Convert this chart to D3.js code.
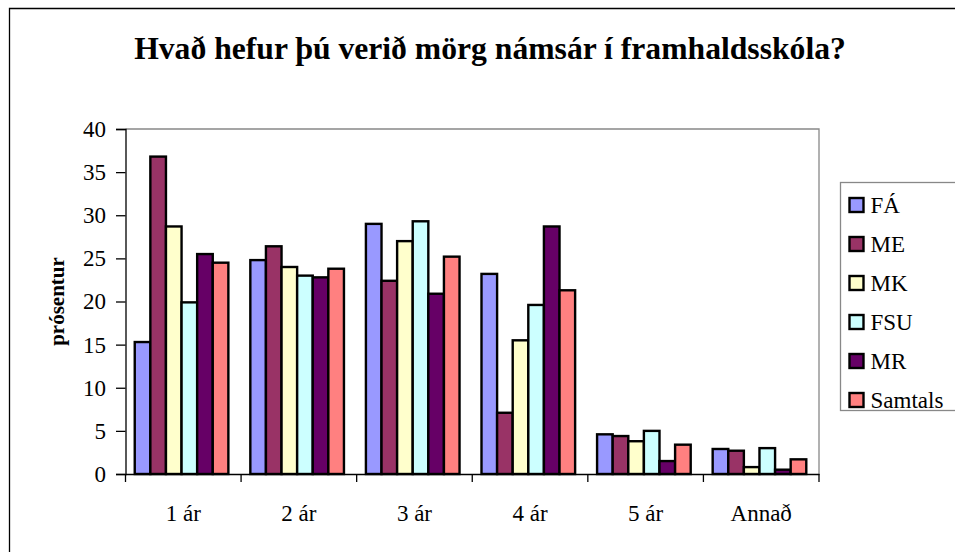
<!DOCTYPE html>
<html>
<head>
<meta charset="utf-8">
<script src="https://cdn.jsdelivr.net/npm/d3@7"></script>
<style>
  body { margin: 0; background: #fff; }
  svg { display: block; }
  svg text { font-family: "Liberation Serif", "Times New Roman", serif !important; fill: #000; }
</style>
</head>
<body>
<svg width="955" height="552"></svg>
<script>
const categories = ['1 ár', '2 ár', '3 ár', '4 ár', '5 ár', 'Annað'];
const seriesNames = ['FÁ', 'ME', 'MK', 'FSU', 'MR', 'Samtals'];
const colors = ['#9999ff', '#993366', '#ffffcc', '#ccffff', '#660066', '#ff8080'];
const faValues = [15.3, 24.8, 29.0, 23.2, 4.6, 2.9];
const meValues = [36.8, 26.4, 22.4, 7.1, 4.4, 2.7];
const mkValues = [28.7, 24.0, 27.0, 15.5, 3.8, 0.8];
const fsuValues = [19.9, 23.0, 29.3, 19.6, 5.0, 3.0];
const mrValues = [25.5, 22.8, 20.9, 28.7, 1.5, 0.5];
const samtalsValues = [24.5, 23.8, 25.2, 21.3, 3.4, 1.7];
const yTicks = [0, 5, 10, 15, 20, 25, 30, 35, 40];

const allValues = [faValues, meValues, mkValues, fsuValues, mrValues, samtalsValues];
const data = categories.map((c, i) => ({
  cat: c,
  vals: seriesNames.map((s, j) => ({series: s, value: allValues[j][i], color: colors[j]}))
}));

const svg = d3.select('svg');
const plot = {left: 125.5, right: 819, top: 129, bottom: 474};
const labelSize = 22;

// outer frame (only left and top edges fall inside the picture)
svg.append('path')
  .attr('d', 'M9.5,560V8.5H960')
  .attr('fill', 'none').attr('stroke', '#000').attr('stroke-width', 1.3);

const title = svg.append('text')
  .attr('x', 490).attr('y', 59)
  .attr('text-anchor', 'middle')
  .style('font-size', '28px').style('font-weight', 'bold')
  .text('Hvað hefur þú verið mörg námsár í framhaldsskóla?');
// the original title is set a bit wide; fit its size to the same span
const titleLen = title.node().getComputedTextLength();
if (titleLen > 0) title.style('font-size', Math.min(32, 28 * 712 / titleLen) + 'px');

const x = d3.scaleBand()
  .domain(categories)
  .range([plot.left, plot.right]);

const xInner = d3.scaleBand()
  .domain(seriesNames)
  .range([x.bandwidth() * 0.08, x.bandwidth() * 0.89]);

const y = d3.scaleLinear()
  .domain([0, 40])
  .range([plot.bottom, plot.top]);

// plot area border (gray top/right)
svg.append('path')
  .attr('d', `M${plot.left},${plot.top}H${plot.right}V${plot.bottom}`)
  .attr('fill', 'none').attr('stroke', '#888').attr('stroke-width', 1.3);

const groups = svg.append('g')
  .selectAll('g')
  .data(data)
  .join('g')
  .attr('transform', d => 'translate(' + x(d.cat) + ',0)');

groups.selectAll('rect')
  .data(d => d.vals)
  .join('rect')
  .attr('x', d => xInner(d.series))
  .attr('y', d => y(d.value))
  .attr('width', xInner.bandwidth())
  .attr('height', d => y(0) - y(d.value))
  .attr('fill', d => d.color)
  .attr('stroke', '#000')
  .attr('stroke-width', 2.4);

const yAxis = svg.append('g')
  .attr('transform', 'translate(' + plot.left + ',0)')
  .call(d3.axisLeft(y).tickValues(yTicks).tickSize(9.5).tickPadding(10));
yAxis.select('.domain').attr('stroke', '#000').attr('stroke-width', 1.3);
yAxis.selectAll('.tick line').attr('stroke', '#000').attr('stroke-width', 1.3);
yAxis.selectAll('text').style('font-size', '23px');

const xAxis = svg.append('g')
  .attr('transform', 'translate(0,' + plot.bottom + ')')
  .call(d3.axisBottom(x).tickSize(0).tickPadding(31));
xAxis.select('.domain').attr('stroke', '#000').attr('stroke-width', 1.3);
xAxis.selectAll('text').style('font-size', '23px');

// category separator ticks on x axis
svg.append('g')
  .selectAll('line')
  .data(categories.concat(['end']))
  .join('line')
  .attr('x1', (d, i) => i < categories.length ? x(d) : plot.right)
  .attr('x2', (d, i) => i < categories.length ? x(d) : plot.right)
  .attr('y1', plot.bottom)
  .attr('y2', plot.bottom + 8)
  .attr('stroke', '#000').attr('stroke-width', 1.3);

svg.append('text')
  .attr('transform', 'translate(64,' + ((plot.top + plot.bottom) / 2) + ') rotate(-90)')
  .attr('text-anchor', 'middle')
  .style('font-size', '21px').style('font-weight', 'bold')
  .text('prósentur');

// legend
const legend = svg.append('g').attr('transform', 'translate(840.5,182.5)');
legend.append('rect')
  .attr('width', 130).attr('height', 228)
  .attr('fill', '#fff').attr('stroke', '#888').attr('stroke-width', 1.3);

const items = legend.selectAll('g.item')
  .data(seriesNames)
  .join('g')
  .attr('class', 'item')
  .attr('transform', (d, i) => 'translate(0,' + (22 + i * 39) + ')');

items.append('rect')
  .attr('x', 9).attr('y', -6.5)
  .attr('width', 14).attr('height', 14)
  .attr('fill', (d, i) => colors[i])
  .attr('stroke', '#000').attr('stroke-width', 2.4);

items.append('text')
  .attr('x', 30).attr('y', 8)
  .style('font-size', '23px')
  .text(d => d);
</script>
</body>
</html>
